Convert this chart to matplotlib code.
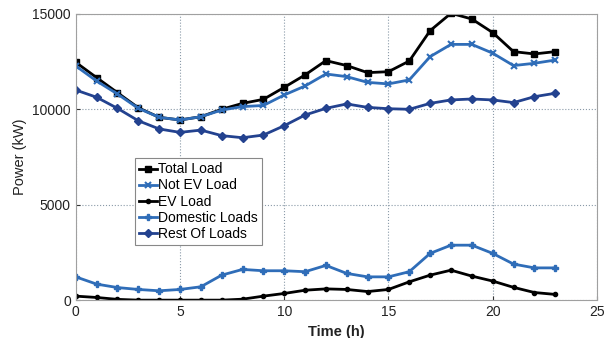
import matplotlib.pyplot as plt
import numpy as np

plt.rcParams['font.family'] = ['Liberation Sans', 'DejaVu Sans']

hours = list(range(24))

total_load = [12460, 11660, 10870, 10080, 9580, 9440, 9610, 10000, 10310, 10520,
              11150, 11800, 12550, 12290, 11920, 11970, 12530, 14120, 15030, 14730,
              14020, 13020, 12900, 13020]
not_ev_load = [12270, 11480, 10800, 10050, 9580, 9440, 9610, 9960, 10140, 10200,
               10750, 11220, 11850, 11710, 11410, 11330, 11540, 12760, 13400, 13400,
               12940, 12290, 12410, 12580]
ev_load = [210, 140, 40, 0, 0, 0, 0, 0, 50, 210,
           350, 520, 590, 560, 450, 560, 960, 1310, 1570, 1260,
           1000, 670, 400, 300]
domestic_loads = [1220, 840, 660, 560, 490, 560, 700, 1310, 1610, 1540,
                  1540, 1490, 1820, 1400, 1220, 1220, 1490, 2450, 2880, 2880,
                  2450, 1890, 1690, 1690]
rest_of_loads = [11010, 10630, 10050, 9400, 8970, 8790, 8910, 8620, 8510, 8650,
                 9140, 9700, 10050, 10280, 10100, 10030, 10000, 10310, 10490, 10540,
                 10490, 10350, 10660, 10840]

fig = plt.figure(figsize=(6.16, 3.38), dpi=100)
ax = fig.add_axes([0.123, 0.112, 0.846, 0.847])

blue = '#2f6db8'
dark_blue = '#23428f'

ax.plot(hours, total_load, '-s', color='black', linewidth=2, markersize=5,
        label='Total Load')
ax.plot(hours, not_ev_load, '-x', color=blue, linewidth=2, markersize=5,
        markeredgewidth=1.5, label='Not EV Load')
ax.plot(hours, ev_load, '-o', color='black', linewidth=2, markersize=3,
        label='EV Load')
ax.plot(hours, domestic_loads, '-P', color=blue, linewidth=2, markersize=5,
        label='Domestic Loads')
ax.plot(hours, rest_of_loads, '-D', color=dark_blue, linewidth=2, markersize=4.5,
        label='Rest Of Loads')

ax.set_xlim(0, 25)
ax.set_ylim(0, 15000)
ax.set_xticks([0, 5, 10, 15, 20, 25])
ax.set_yticks([0, 5000, 10000, 15000])
ax.grid(True, linestyle=':', color='#8a9aa8', linewidth=0.8)
for s in ax.spines.values():
    s.set_color('#a0a0a0')
ax.tick_params(labelsize=10, colors='#333333', length=3, direction='in')
for lab in ax.get_xticklabels() + ax.get_yticklabels():
    lab.set_color('#222222')

ax.set_xlabel('Time (h)', fontsize=10.5, fontweight='bold', color='#222222')
ax.set_ylabel('Power (kW)', fontsize=10.5, color='#222222')

leg = ax.legend(loc='upper left', bbox_to_anchor=(0.1, 0.52), fontsize=10,
                handlelength=1.3, handletextpad=0.1, borderpad=0.3,
                labelspacing=0.15, fancybox=False, framealpha=1,
                edgecolor='#888888')
leg.get_frame().set_linewidth(0.8)

plt.savefig('out.png', dpi=100)
plt.close()
